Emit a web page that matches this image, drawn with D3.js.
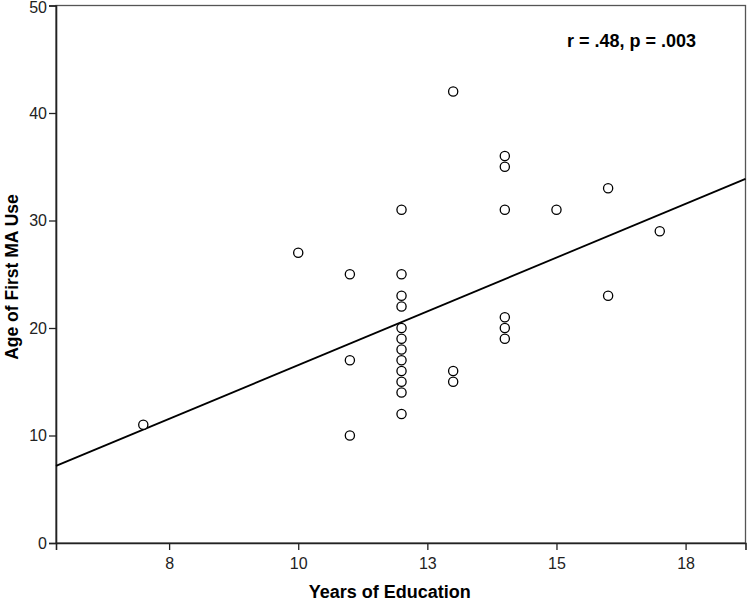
<!DOCTYPE html>
<html>
<head>
<meta charset="utf-8">
<script src="https://cdn.jsdelivr.net/npm/d3@7/dist/d3.min.js"></script>
<style>
  body { margin: 0; background: #fff; }
  svg { display: block; font-family: "Liberation Sans", Arial, sans-serif; }
</style>
</head>
<body>
<div id="chart"></div>
<script>
// years of education for each case
var eduYears = [7, 10, 11, 11, 11,
  12, 12, 12, 12, 12, 12, 12, 12, 12, 12, 12, 12,
  13, 13, 13,
  14, 14, 14, 14, 14, 14,
  15, 16, 16, 17];
// age of first MA use, same order
var firstUseAge = [11, 27, 25, 17, 10,
  31, 25, 23, 22, 20, 19, 18, 17, 16, 15, 14, 12,
  42, 16, 15,
  36, 35, 31, 21, 20, 19,
  31, 33, 23, 29];

var xTicks = [7.5, 10, 12.5, 15, 17.5];
var yTicks = [0, 10, 20, 30, 40, 50];
// fit line as printed (intercept, slope)
var fitLine = [-3.45, 2.0];
var statLabel = "r = .48, p = .003";

var margin = { top: 5.5, right: 4.5, bottom: 59, left: 56 },
  width = 750 - margin.left - margin.right,
  height = 602 - margin.top - margin.bottom;

var svg = d3.select("#chart")
  .append("svg")
  .attr("width", 750)
  .attr("height", 602)
  .append("g")
  .attr("transform", "translate(" + margin.left + "," + margin.top + ")");

var x = d3.scaleLinear()
  .domain([5.31, 18.66])
  .range([0, width]);

var y = d3.scaleLinear()
  .domain([0, 50])
  .range([height, 0]);

// frame top/right
svg.append("rect")
  .attr("width", width)
  .attr("height", height)
  .attr("fill", "none")
  .attr("stroke", "#555")
  .attr("stroke-width", 1.3);

var xAxis = svg.append("g")
  .attr("transform", "translate(0," + height + ")")
  .call(d3.axisBottom(x).tickValues(xTicks).tickSize(7).tickPadding(8)
    .tickFormat(d => Math.round(d)));

var yAxis = svg.append("g")
  .call(d3.axisLeft(y).tickValues(yTicks).tickSize(7).tickPadding(2));

[xAxis, yAxis].forEach(function (a) {
  a.select(".domain").attr("stroke", "#222").attr("stroke-width", 1.6);
  a.selectAll(".tick line").attr("stroke", "#222").attr("stroke-width", 1.3);
  a.selectAll(".tick text")
    .attr("fill", "#222")
    .style("font-size", "16px")
    .style("font-family", "'Liberation Sans', Arial, sans-serif");
});
// keep the top label inside the page
yAxis.selectAll(".tick text").filter(d => d === 50).attr("dy", "0.42em");

// regression line
svg.append("line")
  .attr("x1", x(x.domain()[0]))
  .attr("y1", y(fitLine[0] + fitLine[1] * x.domain()[0]))
  .attr("x2", x(x.domain()[1]))
  .attr("y2", y(fitLine[0] + fitLine[1] * x.domain()[1]))
  .attr("stroke", "#000")
  .attr("stroke-width", 1.8);

svg.append("g")
  .selectAll("circle")
  .data(eduYears)
  .enter()
  .append("circle")
  .attr("cx", d => x(d))
  .attr("cy", (d, i) => y(firstUseAge[i]))
  .attr("r", 4.6)
  .attr("fill", "#fff")
  .attr("stroke", "#000")
  .attr("stroke-width", 1.3);

svg.append("text")
  .attr("x", 511)
  .attr("y", 41)
  .attr("font-weight", "bold")
  .attr("font-size", "18px")
  .text(statLabel);

// axis titles
svg.append("text")
  .attr("x", width / 2 - 11)
  .attr("y", height + 55)
  .attr("text-anchor", "middle")
  .attr("font-weight", "bold")
  .attr("font-size", "18px")
  .text("Years of Education");

svg.append("text")
  .attr("transform", "translate(" + (-38) + "," + (277 - margin.top) + ") rotate(-90)")
  .attr("text-anchor", "middle")
  .attr("font-weight", "bold")
  .attr("font-size", "17.5px")
  .text("Age of First MA Use");
</script>
</body>
</html>
